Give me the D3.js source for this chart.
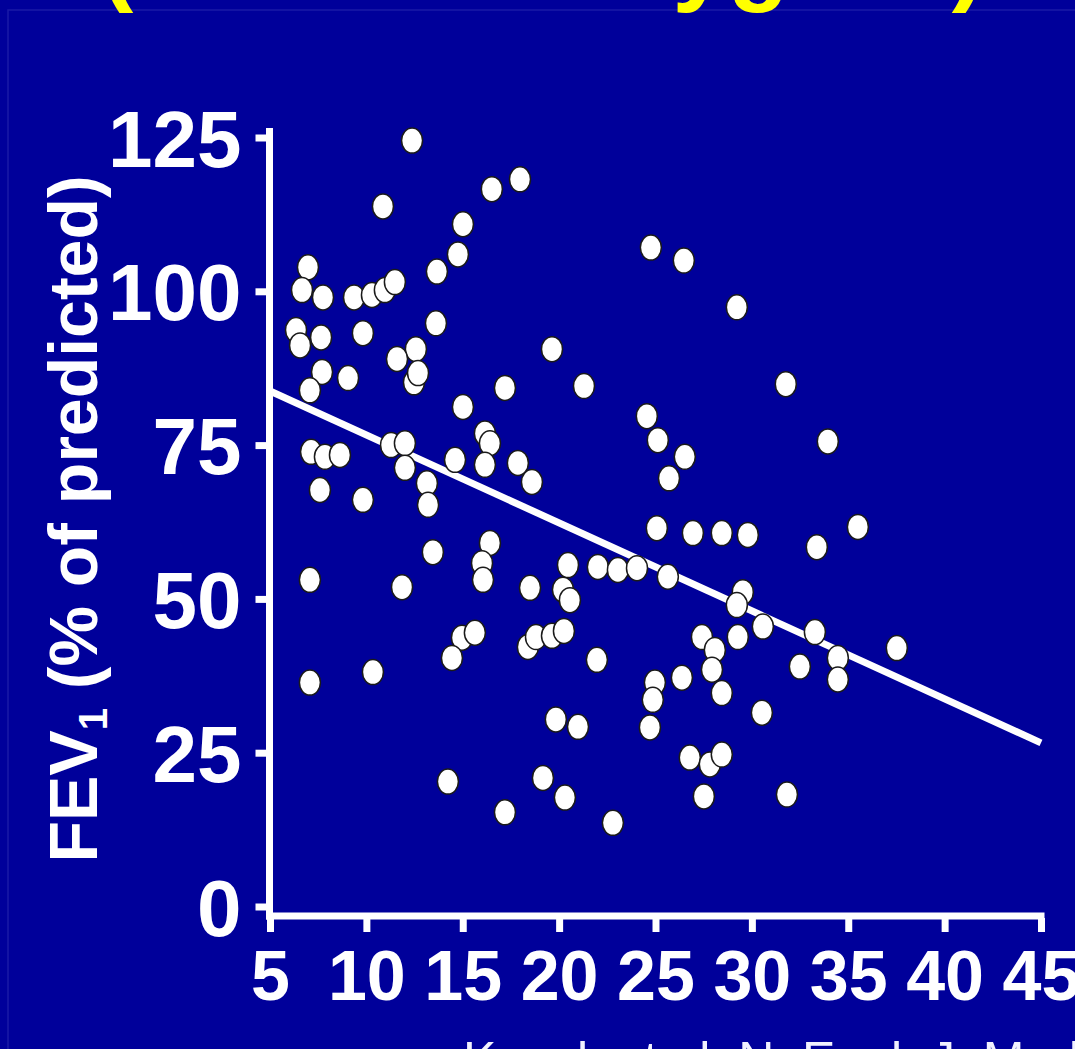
<!DOCTYPE html>
<html>
<head>
<meta charset="utf-8">
<script src="https://cdn.jsdelivr.net/npm/d3@7/dist/d3.min.js"></script>
<style>
  html, body { margin: 0; padding: 0; background: #00009a; overflow: hidden; }
  svg { display: block; }
</style>
</head>
<body>
<svg id="chart" width="1075" height="1049"></svg>
<script>
// Tick values for both axes
const xTicks = [5, 10, 15, 20, 25, 30, 35, 40, 45];
const yTicks = [0, 25, 50, 75, 100, 125];

// Scatter values: x (axis value) and FEV1 (% of predicted)
const xValues = [
  12.37, 10.86, 16.51, 17.97, 15.01, 14.75, 13.66, 6.97, 6.66, 7.75,
  9.36, 10.29, 10.96, 11.48, 13.61, 6.35, 6.56, 7.65, 9.82, 12.57,
  11.59, 12.47, 12.68, 7.70, 7.07, 9.05, 15.01, 17.19, 19.63, 21.29,
  24.55, 25.12, 24.76, 26.47, 29.22, 31.76, 26.52, 25.70, 33.94, 16.15,
  16.41, 7.13, 7.85, 8.63, 11.28, 12.00, 12.00, 14.60, 16.15, 13.14,
  7.59, 9.82, 13.20, 17.86, 18.59, 13.45, 7.07, 11.85, 16.41, 16.00,
  16.05, 20.46, 18.49, 20.20, 20.56, 22.01, 23.05, 24.04, 25.07, 26.94,
  28.44, 29.79, 33.37, 35.50, 25.64, 29.53, 29.22, 30.57, 33.27, 29.27,
  27.41, 28.08, 27.93, 34.46, 34.46, 37.52, 21.96, 24.97, 24.86, 24.71,
  26.37, 28.44, 32.49, 30.52, 26.78, 27.82, 28.44, 27.51, 31.82, 22.79,
  14.96, 15.63, 14.44, 18.38, 18.80, 19.63, 20.25, 7.07, 10.34, 19.83,
  20.98, 14.23, 19.16, 20.30, 17.19
];
const fevValues = [
  124.5, 113.8, 116.6, 118.2, 110.9, 106.0, 103.2, 103.9, 100.2, 99.0,
  99.0, 99.4, 100.2, 101.5, 94.8, 93.7, 91.2, 92.5, 93.2, 90.6,
  89.0, 85.2, 86.7, 86.9, 83.9, 85.9, 81.2, 84.3, 90.6, 84.6,
  79.7, 75.8, 107.1, 105.0, 97.4, 84.9, 73.1, 69.6, 75.6, 76.9,
  75.3, 73.9, 73.1, 73.4, 75.0, 75.3, 71.3, 72.6, 71.8, 68.8,
  67.7, 66.1, 65.3, 72.1, 69.0, 57.6, 53.1, 51.9, 59.1, 55.8,
  53.1, 55.5, 51.8, 51.5, 49.8, 55.2, 54.7, 55.0, 61.5, 60.7,
  60.7, 60.4, 58.4, 61.7, 53.6, 51.1, 49.0, 45.5, 44.6, 43.8,
  43.8, 41.7, 38.5, 40.4, 36.9, 42.0, 40.1, 36.4, 33.6, 29.1,
  37.2, 34.7, 39.0, 31.5, 24.2, 23.1, 24.7, 17.9, 18.2, 13.6,
  43.7, 44.5, 40.4, 42.2, 43.8, 44.0, 44.8, 36.4, 38.1, 30.4,
  29.2, 20.3, 20.9, 17.7, 15.3
];

// Fitted regression line end points
const fitX = [5, 45];
const fitY = [83.8, 26.6];

const titleMain = "(Alveolar oxygen";
const titleClose = ")";
const yAxisLabel = "FEV";
const yAxisSub = "1";
const yAxisRest = " (% of predicted)";
const citation = "Kozak et al. N. Engl. J. Med.";

const svg = d3.select("#chart");
const W = 1075, H = 1049;

svg.append("rect").attr("width", W).attr("height", H).attr("fill", "#00009a");
svg.append("rect")
  .attr("x", 8).attr("y", 10).attr("width", W).attr("height", H)
  .attr("fill", "none").attr("stroke", "#1a1aa6").attr("stroke-width", 1.5);

const x = d3.scaleLinear().domain([5, 45]).range([270, 1041]);
const y = d3.scaleLinear().domain([0, 125]).range([906.5, 137.5]);

const white = "#ffffff";
const font = "'Liberation Sans', Arial, Helvetica, sans-serif";

// Top title (only its lower edge lies inside the page)
const title = svg.append("text")
  .attr("x", 100).attr("y", -8)
  .attr("fill", "#ffff00")
  .attr("font-family", font).attr("font-weight", "bold")
  .attr("font-size", 100);
title.append("tspan").text(titleMain);
title.append("tspan").attr("dx", 46).text(titleClose);

// Y axis
const yAxis = d3.axisLeft(y).tickValues(yTicks).tickSize(14).tickPadding(14).tickFormat(d3.format("d"));
const gy = svg.append("g").attr("transform", "translate(269.5,0)").call(yAxis);
gy.select(".domain").remove();
gy.selectAll(".tick line").attr("stroke", white).attr("stroke-width", 7);
gy.selectAll(".tick text")
  .attr("fill", white).attr("font-family", font).attr("font-weight", "bold")
  .attr("font-size", 80).attr("dy", "0.358em");
svg.append("line")
  .attr("x1", 269.5).attr("x2", 269.5).attr("y1", 128).attr("y2", 919.5)
  .attr("stroke", white).attr("stroke-width", 7);

// X axis
const xAxis = d3.axisBottom(x).tickValues(xTicks).tickSize(14).tickPadding(18).tickFormat(d3.format("d"));
const gx = svg.append("g").attr("transform", "translate(0,918)").call(xAxis);
gx.select(".domain").remove();
gx.selectAll(".tick line").attr("stroke", white).attr("stroke-width", 7);
gx.selectAll(".tick text")
  .attr("fill", white).attr("font-family", font).attr("font-weight", "bold")
  .attr("font-size", 70).attr("dy", "0.716em");
svg.append("line")
  .attr("x1", 266).attr("x2", 1044.5).attr("y1", 916).attr("y2", 916)
  .attr("stroke", white).attr("stroke-width", 7);

// Y axis title
const yt = svg.append("text")
  .attr("transform", "translate(97,519) rotate(-90)")
  .attr("text-anchor", "middle")
  .attr("fill", white).attr("font-family", font).attr("font-weight", "bold")
  .attr("font-size", 68);
yt.append("tspan").text(yAxisLabel);
yt.append("tspan").attr("font-size", 40).attr("dy", 10).text(yAxisSub);
yt.append("tspan").attr("dy", -10).text(yAxisRest);

// Regression line
svg.append("line")
  .attr("x1", x(fitX[0])).attr("y1", y(fitY[0]))
  .attr("x2", x(fitX[1])).attr("y2", y(fitY[1]))
  .attr("stroke", white).attr("stroke-width", 7);

// Points
const pts = xValues.map((v, i) => ({ x: v, y: fevValues[i] }));
svg.append("g").selectAll("ellipse").data(pts).join("ellipse")
  .attr("cx", d => x(d.x)).attr("cy", d => y(d.y))
  .attr("rx", 10.5).attr("ry", 12.5)
  .attr("fill", white).attr("stroke", "#1a1a1a").attr("stroke-width", 1.5);

// Citation (mostly below the page edge)
svg.append("text")
  .attr("x", 463).attr("y", 1077)
  .attr("fill", "#f0f0ff").attr("font-family", font)
  .attr("font-size", 50)
  .text(citation);
</script>
</body>
</html>
